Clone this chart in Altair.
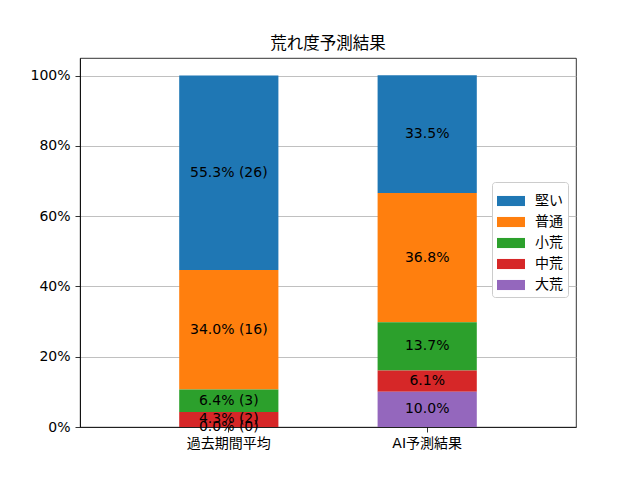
import altair as alt
import pandas as pd

categories = ["過去期間平均", "AI予測結果"]
classes = ["堅い", "普通", "小荒", "中荒", "大荒"]
stack_rank = [4, 3, 2, 1, 0]
past_pct = [55.3, 34.0, 6.4, 4.3, 0.0]
past_cnt = [26, 16, 3, 2, 0]
ai_pct = [33.5, 36.8, 13.7, 6.1, 10.0]
colors = ["#1f77b4", "#ff7f0e", "#2ca02c", "#d62728", "#9467bd"]

rows = []
for c, p, n, r in zip(classes, past_pct, past_cnt, stack_rank):
    rows.append({"cat": categories[0], "cls": c, "pct": p, "ord": r,
                 "label": f"{p:.1f}% ({n})"})
for c, p, r in zip(classes, ai_pct, stack_rank):
    rows.append({"cat": categories[1], "cls": c, "pct": p, "ord": r,
                 "label": f"{p:.1f}%"})
df = pd.DataFrame(rows)

FONT = "DejaVu Sans, Noto Sans CJK JP"
CJK = "Noto Sans CJK JP"

base = alt.Chart(df).transform_stack(
    stack="pct", as_=["y0", "y1"], groupby=["cat"],
    sort=[alt.SortField("ord", order="ascending")]
).transform_calculate(mid="(datum.y0 + datum.y1) / 2")

xenc = alt.X("cat:N", sort=categories, title=None,
             scale=alt.Scale(paddingInner=0.5, paddingOuter=0.5),
             axis=alt.Axis(labelAngle=0, labelFontSize=14, labelFont=FONT,
                           labelColor="black", tickColor="black", tickSize=5,
                           tickWidth=0.8, labelPadding=4, domainColor="black",
                           domainWidth=0.8, grid=False))

bars = base.mark_bar(clip=True).encode(
    x=xenc,
    y=alt.Y("y0:Q", title=None,
            scale=alt.Scale(domain=[0, 105], nice=False, zero=True),
            axis=alt.Axis(values=[0, 20, 40, 60, 80, 100],
                          labelExpr="datum.value + '%'",
                          labelFontSize=14, labelFont=FONT, labelColor="black",
                          tickColor="black", tickSize=5, tickWidth=0.8,
                          labelPadding=5, domainColor="black", domainWidth=0.8,
                          grid=True, gridColor="#b0b0b0", gridWidth=0.8)),
    y2="y1:Q",
    color=alt.Color("cls:N", scale=alt.Scale(domain=classes, range=colors),
                    legend=alt.Legend(
                        title=None, orient="none", legendX=412, legendY=124,
                        symbolType="M-1,-0.36H1V0.36H-1Z", symbolSize=784,
                        symbolStrokeWidth=0, symbolOpacity=1,
                        labelFontSize=14, labelFont=CJK, labelColor="black",
                        labelOffset=10, rowPadding=-7.8, padding=5,
                        strokeColor="#cccccc", fillColor="white",
                        cornerRadius=3)),
)

texts = base.mark_text(fontSize=14, font=FONT, color="black").encode(
    x=alt.X("cat:N", sort=categories),
    y=alt.Y("mid:Q"),
    text="label:N",
)

chart = alt.layer(bars, texts).properties(
    width=496, height=369,
    title=alt.TitleParams("荒れ度予測結果", fontSize=16.5, fontWeight="normal",
                          font=CJK, color="black", offset=6),
    autosize=alt.AutoSizeParams(type="none"),
    padding={"left": 72, "top": 50, "right": 56, "bottom": 45},
).configure_view(stroke="black", strokeWidth=0.8)

chart.save("out.html", embed_options={"renderer": "svg", "actions": False})
